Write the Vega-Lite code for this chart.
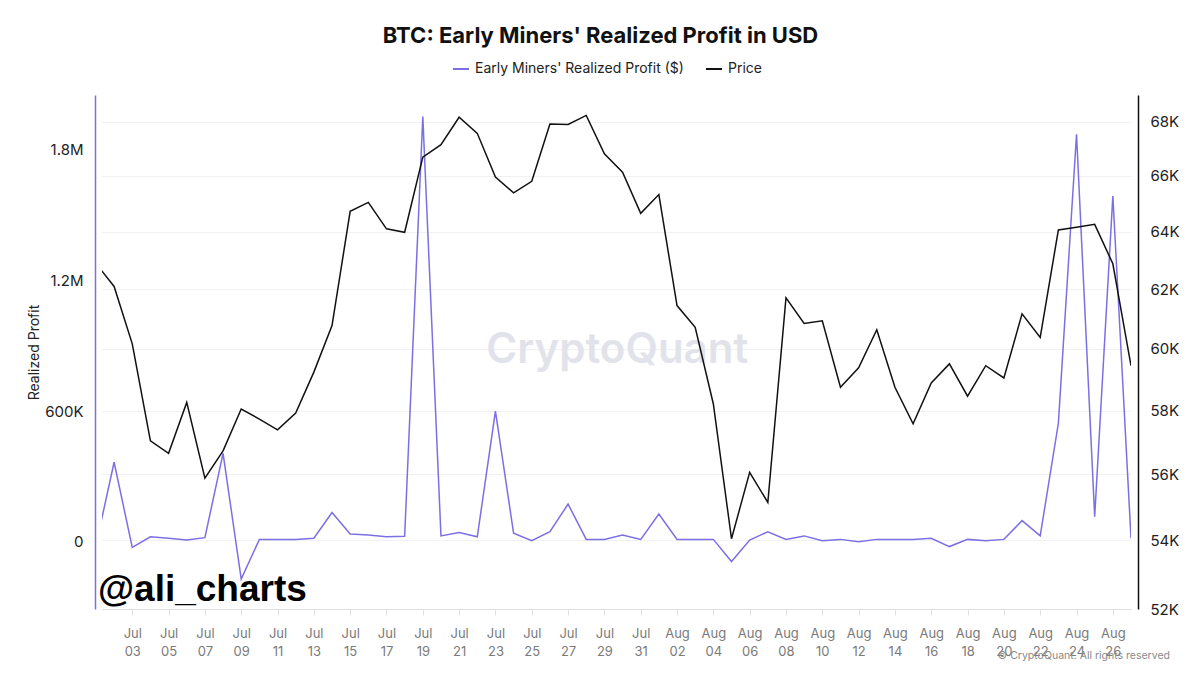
{
  "$schema": "https://vega.github.io/schema/vega-lite/v6.json",
  "width": 1029,
  "height": 514,
  "autosize": {"type": "none"},
  "padding": {"left": 102, "top": 95, "right": 69, "bottom": 66},
  "background": "white",
  "title": {"text": "BTC: Early Miners' Realized Profit in USD", "font": "Inter", "fontSize": 22, "fontWeight": "bold", "color": "#111111", "anchor": "middle", "offset": 12, "dx": -16},
  "config": {"view": {"stroke": null}, "font": "Inter", "axisX": {"labelOverlap": false}},
  "data": {"values": [
    {"date": "2024-07-01", "profit": -15000, "price": 62890},
    {"date": "2024-07-02", "profit": 366000, "price": 62100},
    {"date": "2024-07-03", "profit": -25000, "price": 60170},
    {"date": "2024-07-04", "profit": 24000, "price": 57040},
    {"date": "2024-07-05", "profit": 17000, "price": 56650},
    {"date": "2024-07-06", "profit": 9000, "price": 58260},
    {"date": "2024-07-07", "profit": 20000, "price": 55880},
    {"date": "2024-07-08", "profit": 407000, "price": 56730},
    {"date": "2024-07-09", "profit": -170000, "price": 58050},
    {"date": "2024-07-10", "profit": 12000, "price": 57730},
    {"date": "2024-07-11", "profit": 12000, "price": 57390},
    {"date": "2024-07-12", "profit": 12000, "price": 57920},
    {"date": "2024-07-13", "profit": 17000, "price": 59240},
    {"date": "2024-07-14", "profit": 135000, "price": 60780},
    {"date": "2024-07-15", "profit": 37000, "price": 64720},
    {"date": "2024-07-16", "profit": 32000, "price": 65040},
    {"date": "2024-07-17", "profit": 24000, "price": 64100},
    {"date": "2024-07-18", "profit": 26000, "price": 63980},
    {"date": "2024-07-19", "profit": 1953000, "price": 66680},
    {"date": "2024-07-20", "profit": 28000, "price": 67140},
    {"date": "2024-07-21", "profit": 43000, "price": 68160},
    {"date": "2024-07-22", "profit": 24000, "price": 67560},
    {"date": "2024-07-23", "profit": 601000, "price": 65950},
    {"date": "2024-07-24", "profit": 40000, "price": 65380},
    {"date": "2024-07-25", "profit": 6000, "price": 65800},
    {"date": "2024-07-26", "profit": 47000, "price": 67910},
    {"date": "2024-07-27", "profit": 174000, "price": 67890},
    {"date": "2024-07-28", "profit": 12000, "price": 68230},
    {"date": "2024-07-29", "profit": 12000, "price": 66800},
    {"date": "2024-07-30", "profit": 32000, "price": 66130},
    {"date": "2024-07-31", "profit": 12000, "price": 64650},
    {"date": "2024-08-01", "profit": 128000, "price": 65320},
    {"date": "2024-08-02", "profit": 12000, "price": 61450},
    {"date": "2024-08-03", "profit": 12000, "price": 60720},
    {"date": "2024-08-04", "profit": 12000, "price": 58210},
    {"date": "2024-08-05", "profit": -90000, "price": 54050},
    {"date": "2024-08-06", "profit": 9000, "price": 56060},
    {"date": "2024-08-07", "profit": 47000, "price": 55140},
    {"date": "2024-08-08", "profit": 12000, "price": 61710},
    {"date": "2024-08-09", "profit": 28000, "price": 60850},
    {"date": "2024-08-10", "profit": 6000, "price": 60940},
    {"date": "2024-08-11", "profit": 12000, "price": 58750},
    {"date": "2024-08-12", "profit": 1000, "price": 59380},
    {"date": "2024-08-13", "profit": 12000, "price": 60640},
    {"date": "2024-08-14", "profit": 12000, "price": 58750},
    {"date": "2024-08-15", "profit": 12000, "price": 57580},
    {"date": "2024-08-16", "profit": 17000, "price": 58890},
    {"date": "2024-08-17", "profit": -21000, "price": 59510},
    {"date": "2024-08-18", "profit": 12000, "price": 58460},
    {"date": "2024-08-19", "profit": 6000, "price": 59450},
    {"date": "2024-08-20", "profit": 12000, "price": 59050},
    {"date": "2024-08-21", "profit": 98000, "price": 61170},
    {"date": "2024-08-22", "profit": 28000, "price": 60380},
    {"date": "2024-08-23", "profit": 545000, "price": 64060},
    {"date": "2024-08-24", "profit": 1872000, "price": 64160},
    {"date": "2024-08-25", "profit": 116000, "price": 64260},
    {"date": "2024-08-26", "profit": 1588000, "price": 62880},
    {"date": "2024-08-27", "profit": 17000, "price": 59450}
  ]},
  "layer": [
    {
      "layer": [
        {
          "mark": {"type": "line", "strokeWidth": 1.5, "clip": true},
          "encoding": {
            "x": {"field": "date", "type": "temporal",
              "scale": {"type": "utc", "domain": [1719820800000, 1724716800000]},
              "axis": {"title": null, "tickCount": 60, "values": [1719964800000, 1720137600000, 1720310400000, 1720483200000, 1720656000000, 1720828800000, 1721001600000, 1721174400000, 1721347200000, 1721520000000, 1721692800000, 1721865600000, 1722038400000, 1722211200000, 1722384000000, 1722556800000, 1722729600000, 1722902400000, 1723075200000, 1723248000000, 1723420800000, 1723593600000, 1723766400000, 1723939200000, 1724112000000, 1724284800000, 1724457600000, 1724630400000],
                "labelExpr": "[utcFormat(datum.value, '%b'), utcFormat(datum.value, '%d')]",
                "grid": false, "domainColor": "#e0e0e0", "tickColor": "#e0e0e0", "tickSize": 6,
                "labelColor": "#7a7a7a", "labelFontSize": 13, "labelPadding": 12, "labelLineHeight": 18,
                "labelOverlap": false, "labelFlush": false, "labelBound": false}},
            "y": {"field": "profit", "type": "quantitative",
              "scale": {"domain": [-307600, 2052000], "nice": false, "zero": false},
              "axis": {"orient": "left", "title": "Realized Profit", "values": [0, 600000, 1200000, 1800000],
                "labelExpr": "datum.value == 0 ? '0' : datum.value >= 1000000 ? format(datum.value / 1000000, '.1f') + 'M' : format(datum.value / 1000, 'd') + 'K'",
                "offset": 7, "domainColor": "#7c6fe4", "domainWidth": 1.5, "ticks": false, "grid": false,
                "labelFontSize": 15, "labelColor": "#222222", "labelPadding": 12,
                "titleFontSize": 14, "titleFontWeight": "normal", "titleColor": "#222222", "titlePadding": 3}},
            "color": {"datum": "Early Miners' Realized Profit ($)", "type": "nominal",
              "scale": {"domain": ["Early Miners' Realized Profit ($)", "Price"], "range": ["#7c6fe4", "#111111"]},
              "legend": {"title": null, "orient": "none", "legendX": 350, "legendY": -35, "direction": "horizontal",
                "symbolType": "stroke", "symbolStrokeWidth": 2, "symbolSize": 256, "labelFontSize": 14,
                "labelColor": "#222222", "columnPadding": 18, "labelOffset": 5, "labelLimit": 0}}
          }
        },
        {
          "data": {"values": [{}]},
          "mark": {"type": "text", "text": "CryptoQuant", "font": "Inter", "fontSize": 42, "fontWeight": 600, "color": "#e2e3ea", "align": "center", "baseline": "middle"},
          "encoding": {
            "x": {"datum": {"year": 2024, "month": 7, "date": 29, "hours": 17, "utc": true}, "type": "temporal"},
            "y": {"datum": 881000, "type": "quantitative"}
          }
        },
        {
          "data": {"values": [{}]},
          "mark": {"type": "text", "text": "@ali_charts", "font": "Liberation Sans", "fontSize": 37, "fontWeight": "bold", "color": "#000000", "align": "left", "baseline": "middle", "dx": -4},
          "encoding": {
            "x": {"datum": {"year": 2024, "month": 7, "date": 1, "hours": 8, "utc": true}, "type": "temporal"},
            "y": {"datum": -220000, "type": "quantitative"}
          }
        },
        {
          "data": {"values": [{}]},
          "mark": {"type": "text", "text": "© CryptoQuant. All rights reserved", "font": "Inter", "fontSize": 10.5, "color": "#8a8a8a", "align": "right", "baseline": "middle", "dx": 39, "dy": 47},
          "encoding": {
            "x": {"datum": {"year": 2024, "month": 8, "date": 27, "utc": true}, "type": "temporal"},
            "y": {"datum": -307600, "type": "quantitative"}
          }
        }
      ]
    },
    {
      "mark": {"type": "line", "strokeWidth": 1.5, "clip": true},
      "encoding": {
        "x": {"field": "date", "type": "temporal"},
        "y": {"field": "price", "type": "quantitative",
          "scale": {"type": "log", "domain": [52000, 69000], "nice": false},
          "axis": {"orient": "right", "title": null, "values": [52000, 54000, 56000, 58000, 60000, 62000, 64000, 66000, 68000],
            "labelExpr": "format(datum.value / 1000, 'd') + 'K'",
            "offset": 7, "domainColor": "#111111", "domainWidth": 1.5, "ticks": false,
            "grid": true, "gridColor": "#f1f1f3",
            "labelFontSize": 15, "labelColor": "#222222", "labelPadding": 12}},
        "color": {"datum": "Price", "type": "nominal"}
      }
    }
  ],
  "resolve": {"scale": {"y": "independent"}}
}
